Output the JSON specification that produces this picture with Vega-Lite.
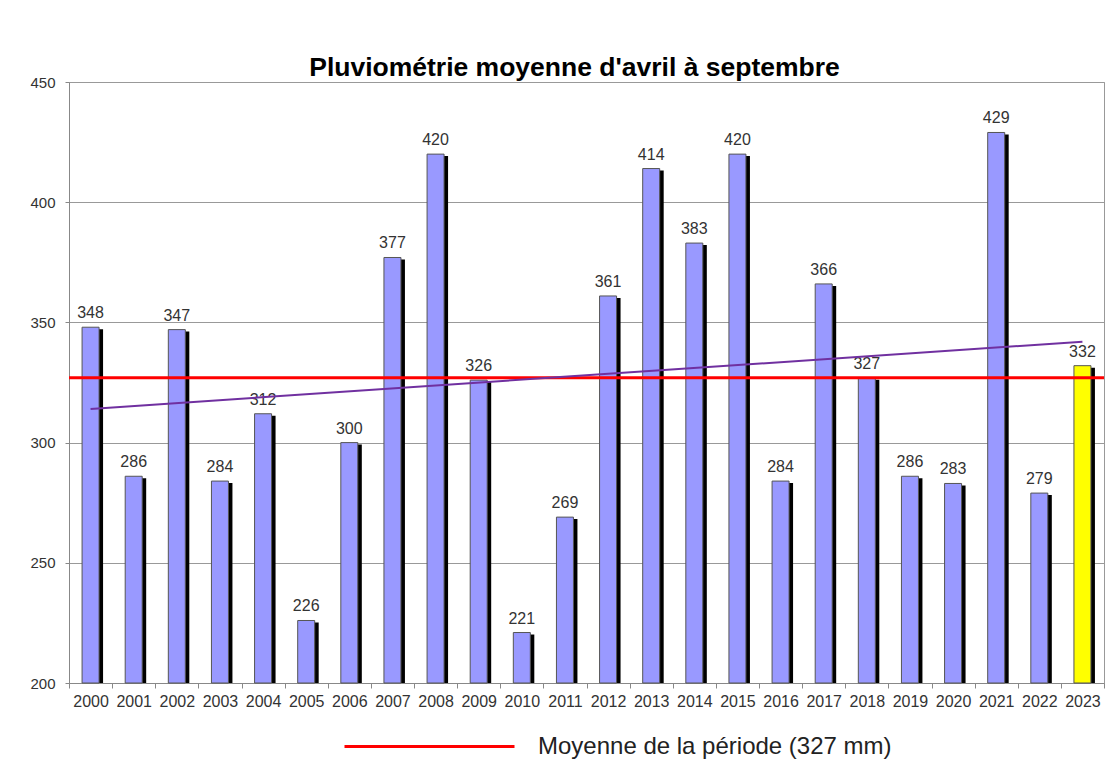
{
  "$schema": "https://vega.github.io/schema/vega-lite/v6.json",
  "width": 1035,
  "height": 601,
  "autosize": {"type": "none"},
  "padding": {"left": 69, "top": 82, "right": 12, "bottom": 86},
  "background": "white",
  "title": {
    "text": "Pluviométrie moyenne d'avril à septembre",
    "font": "Liberation Sans",
    "fontSize": 26.5,
    "fontWeight": "bold",
    "color": "black",
    "anchor": "middle",
    "dx": -12,
    "offset": -6
  },
  "config": {
    "view": {"stroke": "#999999", "strokeWidth": 1},
    "font": "Liberation Sans"
  },
  "datasets": {
    "pluie": [
      {"annee": "2000", "mm": 348}, {"annee": "2001", "mm": 286}, {"annee": "2002", "mm": 347},
      {"annee": "2003", "mm": 284}, {"annee": "2004", "mm": 312}, {"annee": "2005", "mm": 226},
      {"annee": "2006", "mm": 300}, {"annee": "2007", "mm": 377}, {"annee": "2008", "mm": 420},
      {"annee": "2009", "mm": 326}, {"annee": "2010", "mm": 221}, {"annee": "2011", "mm": 269},
      {"annee": "2012", "mm": 361}, {"annee": "2013", "mm": 414}, {"annee": "2014", "mm": 383},
      {"annee": "2015", "mm": 420}, {"annee": "2016", "mm": 284}, {"annee": "2017", "mm": 366},
      {"annee": "2018", "mm": 327}, {"annee": "2019", "mm": 286}, {"annee": "2020", "mm": 283},
      {"annee": "2021", "mm": 429}, {"annee": "2022", "mm": 279}, {"annee": "2023", "mm": 332}
    ],
    "tendance": [{"annee": "2000", "mm": 314}, {"annee": "2023", "mm": 342}],
    "moyenne": [{"serie": "Moyenne de la période (327 mm)", "mm": 327}]
  },
  "layer": [
    {
      "data": {"name": "pluie"},
      "mark": {"type": "bar", "width": 17, "color": "black", "xOffset": 4, "yOffset": 2},
      "encoding": {
        "x": {
          "field": "annee", "type": "ordinal", "title": null,
          "scale": {"paddingInner": 0, "paddingOuter": 0},
          "axis": {
            "tickBand": "extent", "labelAngle": 0, "labelFontSize": 16, "labelColor": "#333333",
            "domainColor": "#888888", "tickColor": "#888888", "tickSize": 5, "labelPadding": 5
          }
        },
        "y": {
          "field": "mm", "type": "quantitative", "title": null,
          "scale": {"domain": [200, 450], "nice": false, "zero": false},
          "axis": {
            "values": [200, 250, 300, 350, 400, 450], "labelFontSize": 15, "labelColor": "#333333",
            "gridColor": "#999999", "domainColor": "#888888", "tickColor": "#888888", "tickSize": 4, "labelPadding": 10
          }
        },
        "y2": {"datum": 200}
      }
    },
    {
      "data": {"name": "pluie"},
      "mark": {"type": "bar", "width": 17, "stroke": "#555555", "strokeWidth": 1},
      "encoding": {
        "x": {"field": "annee", "type": "ordinal"},
        "y": {"field": "mm", "type": "quantitative"},
        "y2": {"datum": 200},
        "color": {"condition": {"test": "datum.annee === '2023'", "value": "#FFFF00"}, "value": "#9999FF"}
      }
    },
    {
      "data": {"name": "pluie"},
      "mark": {"type": "text", "baseline": "bottom", "dy": -6, "fontSize": 16, "color": "#333333"},
      "encoding": {
        "x": {"field": "annee", "type": "ordinal"},
        "y": {"field": "mm", "type": "quantitative"},
        "text": {"field": "mm", "type": "quantitative"}
      }
    },
    {
      "data": {"name": "moyenne"},
      "mark": {"type": "rule", "strokeWidth": 3},
      "encoding": {
        "y": {"field": "mm", "type": "quantitative"},
        "color": {
          "field": "serie", "type": "nominal",
          "scale": {"range": ["#FF0000"]},
          "legend": {
            "title": null, "orient": "none", "legendX": 274, "legendY": 578,
            "symbolType": "stroke", "symbolSize": 28900, "symbolStrokeWidth": 3,
            "labelFontSize": 24, "labelColor": "#222222", "labelOffset": 22, "labelLimit": 600
          }
        }
      }
    },
    {
      "data": {"name": "tendance"},
      "mark": {"type": "line", "color": "#7030A0", "strokeWidth": 2},
      "encoding": {
        "x": {"field": "annee", "type": "ordinal"},
        "y": {"field": "mm", "type": "quantitative"}
      }
    }
  ]
}
